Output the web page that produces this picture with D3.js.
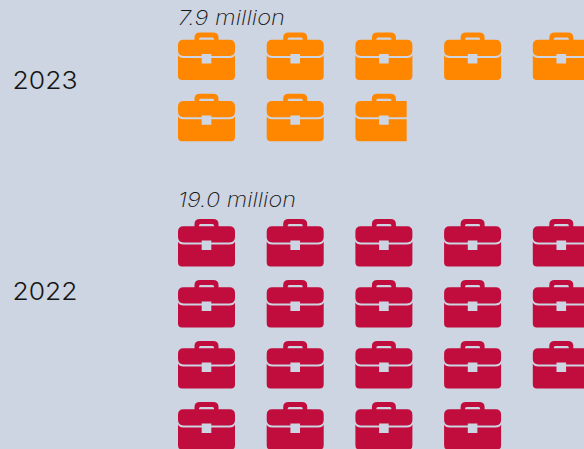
<!DOCTYPE html>
<html><head><meta charset="utf-8">
<script src="https://cdn.jsdelivr.net/npm/d3@7"></script>
<style>
html,body{margin:0;padding:0;background:#cdd5e3;overflow:hidden}
svg{display:block}
text{font-family:Inter,"Open Sans",sans-serif;fill:#161616}
</style></head><body>
<svg id="c" width="584" height="449"></svg>
<script>
const years = ["2023", "2022"];
const values = [7.9, 19.0];
const valueLabels = ["7.9 million", "19.0 million"];
const colors = ["#ff8700", "#c00d3e"];
const perRow = 5;
const W = 584, H = 449;
const bg = "#cdd5e3";

const svg = d3.select("#c");
svg.append("rect").attr("width", W).attr("height", H).attr("fill", bg);

// one icon = one million
const iconW = 57, iconH = 47.5;
const x = d3.scaleLinear().domain([0, 1]).range([178, 266.7]);
const rowY = [
  d3.scaleLinear().domain([0, 1]).range([32.5, 93.8]),
  d3.scaleLinear().domain([0, 1]).range([219, 280])
];
const labelY = [25, 207];
const labelLen = [107, 118];
const yearY = [89, 300];

const briefcase =
  // handle with a thin slit
  "M22 0H35Q40.5 0 40.5 5V8H36V6.5Q36 5 34.5 5H22.5Q21 5 21 6.5V8H16.5V5Q16.5 0 22 0Z" +
  // upper body with clasp notch
  "M5.5 7.3H51.5Q57 7.3 57 12.8V18Q57 23.4 51.5 23.4H33.3V21.6H23.7V23.4H5.5Q0 23.4 0 18V12.8Q0 7.3 5.5 7.3Z" +
  // lower body with clasp notch
  "M0 22.5Q1 25.4 5.5 25.4H23.7V31H33.3V25.4H51.5Q56 25.4 57 22.5V43.5Q57 47.5 53 47.5H4Q0 47.5 0 43.5Z";

const defs = svg.append("defs");

years.forEach((yr, s) => {
  const g = svg.append("g");
  g.append("text").attr("x", 12.5).attr("y", yearY[s])
    .attr("font-size", 24.5).attr("font-weight", 300)
    .attr("textLength", 65).attr("lengthAdjust", "spacingAndGlyphs").text(yr);
  g.append("text").attr("x", 178).attr("y", labelY[s])
    .attr("font-size", 20.5).attr("font-weight", 200).attr("font-style", "italic")
    .attr("textLength", labelLen[s]).attr("lengthAdjust", "spacingAndGlyphs")
    .text(valueLabels[s]);

  const n = Math.ceil(values[s]);
  d3.range(n).forEach(i => {
    const col = i % perRow, row = Math.floor(i / perRow);
    const frac = Math.min(1, values[s] - i);
    const id = `clip-${s}-${i}`;
    defs.append("clipPath").attr("id", id).append("rect")
      .attr("x", -1).attr("y", -1)
      .attr("width", frac < 1 ? iconW * frac + 1 : iconW + 2).attr("height", iconH + 2);
    g.append("g")
      .attr("transform", `translate(${x(col)},${rowY[s](row)})`)
      .append("path").attr("d", briefcase)
      .attr("clip-path", `url(#${id})`)
      .attr("fill", colors[s]);
  });
});
</script>
</body></html>
